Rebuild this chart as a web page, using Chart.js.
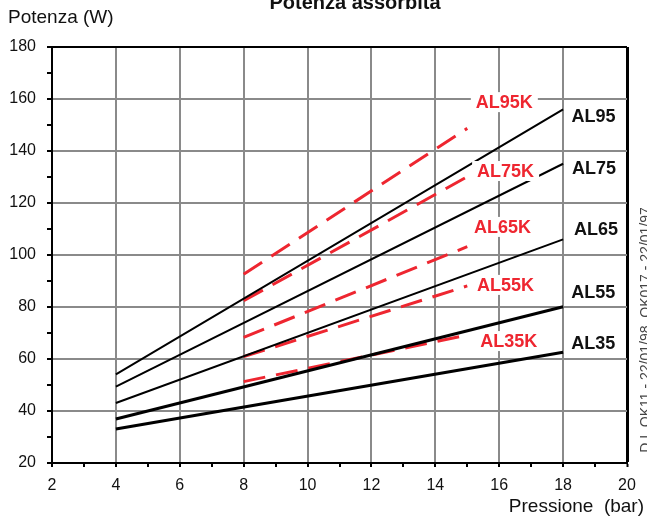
<!DOCTYPE html>
<html>
<head>
<meta charset="utf-8">
<script src="https://cdn.jsdelivr.net/npm/chart.js@4/dist/chart.umd.min.js"></script>
<style>
  html, body { margin: 0; padding: 0; background: #fff; overflow: hidden; }
  #wrap { position: relative; width: 647px; height: 521px; }
</style>
</head>
<body>
<div id="wrap"><canvas id="chart" width="647" height="521"></canvas></div>
<script>
// ---- data ----
const stdNames = ['AL95', 'AL75', 'AL65', 'AL55', 'AL35'];
const stdPressure = [4, 18];
const al95 = [54.1, 156];
const al75 = [49.4, 135.1];
const al65 = [43.1, 106];
const al55 = [36.9, 80.1];
const al35 = [33.1, 62.6];

const kNames = ['AL95K', 'AL75K', 'AL65K', 'AL55K', 'AL35K'];
const kPressure = [8, 15];
const al95k = [92.6, 148.7];
const al75k = [82.4, 130.1];
const al65k = [68.3, 103.2];
const al55k = [60.9, 88.1];
const al35k = [51.3, 69.2];

const xTicks = [2, 4, 6, 8, 10, 12, 14, 16, 18, 20];
const yTicks = [20, 40, 60, 80, 100, 120, 140, 160, 180];

// label anchors in data units (pressure, watt)
const stdLabelAt = [[18.95, 153.5], [18.97, 133.5], [19.03, 110], [18.94, 85.8], [18.94, 66.2]];
const kLabelAt = [[16.16, 158.8], [16.2, 132.3], [16.1, 110.8], [16.2, 88.5], [16.3, 66.9]];

const RED = '#ee2630';
const GRID = '#8a8a8a';
const FONT = "'Liberation Sans', Arial, sans-serif";

const pts = (xs, ys) => xs.map((x, i) => ({ x: x, y: ys[i] }));

const stdSeries = [al95, al75, al65, al55, al35];
const kSeries = [al95k, al75k, al65k, al55k, al35k];

const datasets = [];
stdSeries.forEach((s, i) => {
    datasets.push({
        label: stdNames[i],
        data: pts(stdPressure, s),
        borderColor: '#000',
        borderWidth: i >= 3 ? 3 : 2,
        pointRadius: 0
    });
});
kSeries.forEach((s, i) => {
    datasets.push({
        label: kNames[i],
        data: pts(kPressure, s),
        borderColor: RED,
        borderWidth: 3,
        borderDash: [22, 11],
        borderCapStyle: 'butt',
        pointRadius: 0
    });
});

// --- text: title, axis names, series labels, side note ---
const textPlugin = {
    id: 'chartText',
    afterDatasetsDraw(chart) {
        const { ctx, scales: { x, y } } = chart;
        ctx.save();
        ctx.textBaseline = 'middle';

        // red labels with white boxes
        ctx.font = 'bold 18px ' + FONT;
        ctx.textAlign = 'center';
        kNames.forEach((name, i) => {
            const px = x.getPixelForValue(kLabelAt[i][0]);
            const py = y.getPixelForValue(kLabelAt[i][1]);
            const w = ctx.measureText(name).width + 10;
            ctx.fillStyle = '#fff';
            ctx.fillRect(px - w / 2, py - 10, w, 20);
            ctx.fillStyle = RED;
            ctx.fillText(name, px, py + 1);
        });

        // black labels
        stdNames.forEach((name, i) => {
            const px = x.getPixelForValue(stdLabelAt[i][0]);
            const py = y.getPixelForValue(stdLabelAt[i][1]);
            ctx.fillStyle = '#111';
            ctx.fillText(name, px, py + 1);
        });

        // title (cut at top edge like in the scan)
        ctx.font = 'bold 20px ' + FONT;
        ctx.textBaseline = 'alphabetic';
        ctx.fillStyle = '#111';
        ctx.fillText('Potenza assorbita', 355, 9);

        // axis titles
        ctx.font = '19px ' + FONT;
        ctx.textBaseline = 'middle';
        ctx.textAlign = 'left';
        ctx.fillText('Potenza (W)', 8, 18);
        ctx.textAlign = 'right';
        ctx.fillText('Pressione  (bar)', 644, 507);

        // side note, clipped by the right edge
        ctx.translate(650, 330);
        ctx.rotate(-Math.PI / 2);
        ctx.font = '14px ' + FONT;
        ctx.textBaseline = 'alphabetic';
        ctx.fillStyle = '#444';
        ctx.textAlign = 'center';
        ctx.fillText('D.I. OK11 - 22/01/98  OK017 - 22/01/97', 0, 0);
        ctx.restore();
    }
};

new Chart(document.getElementById('chart'), {
    type: 'line',
    data: { datasets },
    options: {
        responsive: false,
        animation: false,
        layout: { padding: { top: 47, right: 20, left: 0, bottom: 0 } },
        plugins: { legend: { display: false }, tooltip: { enabled: false } },
        scales: {
            x: {
                type: 'linear',
                min: 2,
                max: 20,
                afterFit: s => { s.height = 58; },
                ticks: {
                    stepSize: 1,
                    autoSkip: false,
                    maxRotation: 0,
                    padding: 9,
                    color: '#111',
                    font: { family: FONT, size: 16 },
                    callback: v => xTicks.includes(v) ? v : ''
                },
                grid: {
                    color: c => c.tick.value === 20 ? '#000' : (c.tick.value % 2 === 0 ? GRID : 'rgba(0,0,0,0)'),
                    lineWidth: c => c.tick.value === 20 ? 3 : 2,
                    tickColor: '#000',
                    tickLength: 4,
                    tickWidth: 2
                },
                border: { color: '#000', width: 2 }
            },
            y: {
                min: 20,
                max: 180,
                afterFit: s => { s.width = 52; },
                ticks: {
                    stepSize: 10,
                    autoSkip: false,
                    padding: 11,
                    color: '#111',
                    font: { family: FONT, size: 16 },
                    callback: v => yTicks.includes(v) ? v : ''
                },
                grid: {
                    color: c => c.tick.value === 180 ? '#000' : (c.tick.value % 20 === 0 ? GRID : 'rgba(0,0,0,0)'),
                    lineWidth: 2,
                    tickColor: '#000',
                    tickLength: 5,
                    tickWidth: 2
                },
                border: { color: '#000', width: 2 }
            }
        }
    },
    plugins: [textPlugin]
});
</script>
</body>
</html>
